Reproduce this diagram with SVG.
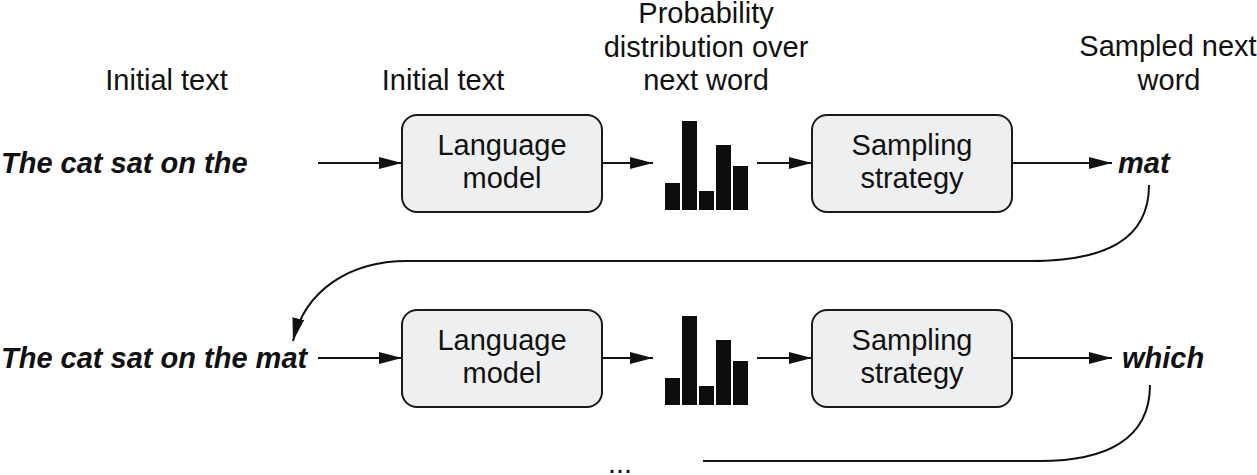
<svg xmlns="http://www.w3.org/2000/svg" width="1257" height="475" viewBox="0 0 1257 475">
<style>
  text { font-family: "Liberation Sans", Arial, sans-serif; font-size: 29px; fill: #111; }
  .c { text-anchor: middle; }
  .bi { font-weight: bold; font-style: italic; }
  .box { fill: #eeeff0; stroke: #1a1a1a; stroke-width: 2; }
  .bar { fill: #0d0d0d; }
  .ln { fill: none; stroke: #111; stroke-width: 2; }
</style>
<defs>
  <marker id="ah" markerUnits="userSpaceOnUse" markerWidth="23" markerHeight="12" refX="23" refY="6" orient="auto">
    <path d="M0,0 L23,6 L0,12 z" fill="#111"/>
  </marker>
</defs>

<g id="headers">
  <text class="c" x="166.5" y="90">Initial text</text>
  <text class="c" x="443" y="90">Initial text</text>
  <text class="c" x="706" y="23">Probability</text>
  <text class="c" x="706" y="57">distribution over</text>
  <text class="c" x="706" y="90">next word</text>
  <text class="c" x="1168" y="56">Sampled next</text>
  <text class="c" x="1169" y="90">word</text>
</g>

<g id="input1"><text class="bi" x="1" y="173">The cat sat on the</text></g>
<g id="lm1">
  <rect class="box" x="402" y="115" width="200" height="97" rx="15"/>
  <text class="c" x="502" y="155">Language</text>
  <text class="c" x="502" y="188">model</text>
</g>
<g id="dist1">
  <rect class="bar" x="665" y="183" width="15" height="27"/>
  <rect class="bar" x="682" y="121" width="15" height="89"/>
  <rect class="bar" x="699" y="191" width="15" height="19"/>
  <rect class="bar" x="716" y="145" width="15" height="65"/>
  <rect class="bar" x="733" y="166" width="15" height="44"/>
</g>
<g id="ss1">
  <rect class="box" x="812" y="115" width="200" height="97" rx="15"/>
  <text class="c" x="912" y="155">Sampling</text>
  <text class="c" x="912" y="188">strategy</text>
</g>
<g id="out1"><text class="bi" x="1118" y="173">mat</text></g>

<g id="input2"><text class="bi" x="1" y="368">The cat sat on the mat</text></g>
<g id="lm2">
  <rect class="box" x="402" y="310" width="200" height="97" rx="15"/>
  <text class="c" x="502" y="350">Language</text>
  <text class="c" x="502" y="383">model</text>
</g>
<g id="dist2">
  <rect class="bar" x="665" y="378" width="15" height="27"/>
  <rect class="bar" x="682" y="316" width="15" height="89"/>
  <rect class="bar" x="699" y="386" width="15" height="19"/>
  <rect class="bar" x="716" y="340" width="15" height="65"/>
  <rect class="bar" x="733" y="361" width="15" height="44"/>
</g>
<g id="ss2">
  <rect class="box" x="812" y="310" width="200" height="97" rx="15"/>
  <text class="c" x="912" y="350">Sampling</text>
  <text class="c" x="912" y="383">strategy</text>
</g>
<g id="out2"><text class="bi" x="1122" y="368">which</text></g>

<g id="ellipsis"><text x="608" y="473">...</text></g>

<g id="connectors">
  <line class="ln" x1="318" y1="163" x2="402" y2="163" marker-end="url(#ah)"/>
  <line class="ln" x1="602" y1="163" x2="653" y2="163" marker-end="url(#ah)"/>
  <line class="ln" x1="757" y1="163" x2="812" y2="163" marker-end="url(#ah)"/>
  <line class="ln" x1="1012" y1="163" x2="1112" y2="163" marker-end="url(#ah)"/>
  <path class="ln" d="M1149,185 C1149,240 1105,261 1030,261 L407,261 C350,261 305,290 293,341" marker-end="url(#ah)"/>
  <line class="ln" x1="318" y1="358" x2="402" y2="358" marker-end="url(#ah)"/>
  <line class="ln" x1="602" y1="358" x2="653" y2="358" marker-end="url(#ah)"/>
  <line class="ln" x1="757" y1="358" x2="812" y2="358" marker-end="url(#ah)"/>
  <line class="ln" x1="1012" y1="358" x2="1112" y2="358" marker-end="url(#ah)"/>
  <path class="ln" d="M1150,385 C1150,440 1105,461 1040,461 L703,461"/>
</g>
</svg>
